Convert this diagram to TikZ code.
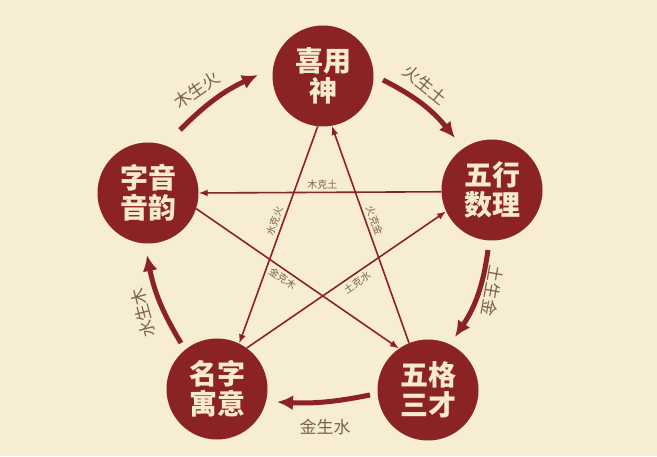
\documentclass[tikz,border=0pt]{standalone}
\usepackage{fontspec}
\newfontfamily\cjk{Noto Sans CJK SC}
\usetikzlibrary{arrows.meta,positioning}
\definecolor{paper}{RGB}{247,237,211}
\definecolor{wine}{RGB}{139,34,36}
\definecolor{cream}{RGB}{248,234,206}
\definecolor{ink}{RGB}{125,98,72}
\tikzstyle{element} = [circle, minimum size=101pt, inner sep=0pt, fill=wine, text=cream, align=center, font=\cjk\bfseries\fontsize{28}{30}\selectfont]
\tikzstyle{sheng} = [draw=wine, line width=5pt, -{Latex[length=16pt,width=15pt]}]
\tikzstyle{ke} = [draw=wine, line width=1.6pt, -{Latex[length=9pt,width=7pt]}]
\tikzstyle{shenglabel} = [text=ink, inner sep=0pt, font=\cjk\fontsize{17}{17}\selectfont]
\tikzstyle{kelabel} = [text=ink, inner sep=1pt, font=\cjk\fontsize{10}{10}\selectfont]
\begin{document}
\begin{tikzpicture}[x=1pt,y=1pt]
    \fill[paper] (0,0) rectangle (657,456);
    \useasboundingbox (0,0) rectangle (657,456);

    % the five elements
    \node(xys)[element] at (323,380) {喜用\\神};
    \node(wxsl)[element] at (492,266) {五行\\数理};
    \node(wgsc)[element] at (428,66) {五格\\三才};
    \node(mzyy)[element] at (217,67) {名字\\寓意};
    \node(zyyy)[element] at (148,263) {字音\\音韵};

    % sheng cycle
    \coordinate (mhs) at (180,326);
    \coordinate (mhe) at (258,381);
    \coordinate (hts) at (383,376);
    \coordinate (hte) at (455,318);
    \coordinate (tjs) at (488,206);
    \coordinate (tje) at (455,119);
    \coordinate (jss) at (370,61);
    \coordinate (jse) at (277,54);
    \coordinate (sms) at (181,113);
    \coordinate (sme) at (147,201);

    \draw[sheng] (mhs) to[bend left=10] (mhe);
    \draw[sheng] (hts) to[bend left=12] (hte);
    \draw[sheng] (tjs) to[bend left=13] (tje);
    \draw[sheng] (jss) to[bend left=7] (jse);
    \draw[sheng] (sms) to[bend left=10] (sme);

    \node(mh)[shenglabel, rotate=35] at (197,366) {木生火};
    \node(ht)[shenglabel, rotate=-39] at (425,371) {火生土};
    \node(tj)[shenglabel, rotate=-100] at (493,165) {土生金};
    \node(js)[shenglabel] at (325,29) {金生水};
    \node(sm)[shenglabel, rotate=105] at (143,143) {水生木};

    % ke star
    \draw[ke] (wxsl.182) -- node(mkt)[kelabel, pos=0.49, above=1pt] {木克土} (zyyy.0);
    \draw[ke] (xys.-96) -- node(skh)[kelabel, pos=0.45, sloped, above=2pt] {水克火} (mzyy.64);
    \draw[ke] (wgsc.112) -- node(hkj)[kelabel, pos=0.55, sloped, above=2pt] {火克金} (xys.-80);
    \draw[ke] (zyyy.-18) -- node(jkm)[kelabel, pos=0.45, sloped, below=2pt] {金克木} (wgsc.125);
    \draw[ke] (mzyy.54) -- node(tks)[kelabel, pos=0.53, sloped, below=2pt] {土克水} (wxsl.205);

\end{tikzpicture}
\end{document}
